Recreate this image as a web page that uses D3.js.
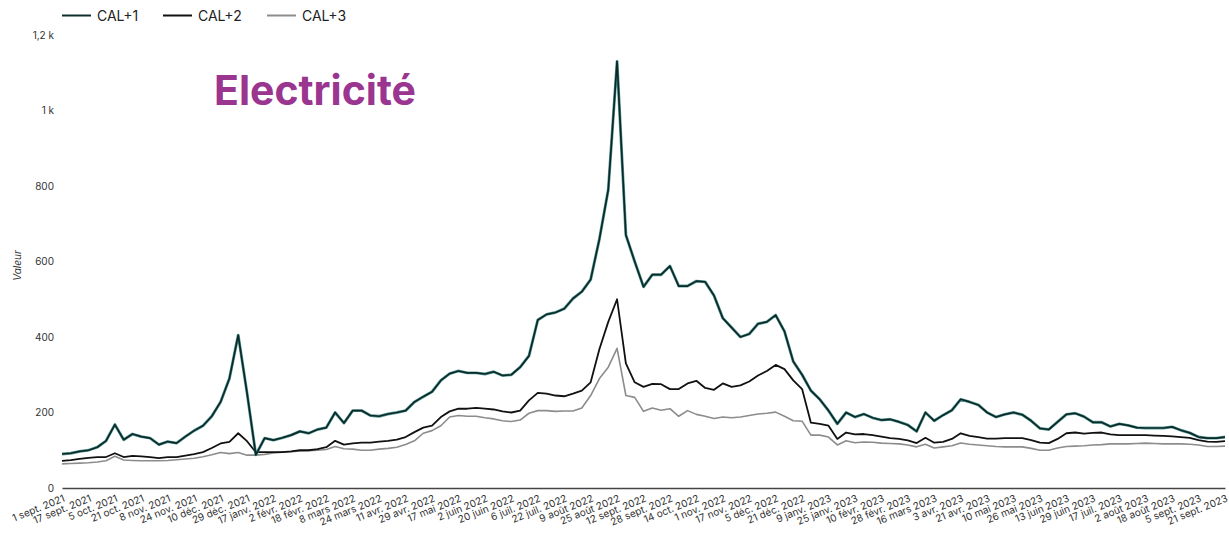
<!DOCTYPE html>
<html>
<head>
<meta charset="utf-8">
<script src="https://cdn.jsdelivr.net/npm/d3@7"></script>
<style>
  body { margin: 0; background: #fff; }
  svg { display: block; }
  text { font-family: Inter, 'Noto Sans', sans-serif; }
</style>
</head>
<body>
<svg id="chart" width="1229" height="541"></svg>
<script>
// tick labels, one every 12 trading days
const tickLabels = [
  '1 sept. 2021', '17 sept. 2021', '5 oct. 2021', '21 oct. 2021', '8 nov. 2021', '24 nov. 2021',
  '10 déc. 2021', '29 déc. 2021', '17 janv. 2022', '2 févr. 2022', '18 févr. 2022', '8 mars 2022',
  '24 mars 2022', '11 avr. 2022', '29 avr. 2022', '17 mai 2022', '2 juin 2022', '20 juin 2022',
  '6 juil. 2022', '22 juil. 2022', '9 août 2022', '25 août 2022', '12 sept. 2022', '28 sept. 2022',
  '14 oct. 2022', '1 nov. 2022', '17 nov. 2022', '5 déc. 2022', '21 déc. 2022', '9 janv. 2023',
  '25 janv. 2023', '10 févr. 2023', '28 févr. 2023', '16 mars 2023', '3 avr. 2023', '21 avr. 2023',
  '10 mai 2023', '26 mai 2023', '13 juin 2023', '29 juin 2023', '17 juil. 2023', '2 août 2023',
  '18 août 2023', '5 sept. 2023', '21 sept. 2023'
];
const tickEvery = 12; // trading days between labels
const sampleStep = 4; // trading days between values below

const cal1 = [
  90, 92, 97, 100, 108, 125, 168, 128, 143, 136,
  132, 115, 123, 119, 136, 152, 165, 190, 228, 290,
  405, 252, 88, 132, 127, 133, 140, 150, 145, 155,
  160, 200, 172, 205, 205, 192, 190, 196, 200, 205,
  228, 242, 255, 285, 303, 310, 305, 305, 302, 308,
  298, 300, 320, 350, 445, 460, 465, 475, 502, 520,
  552, 660, 790, 1130, 670, 600, 533, 565, 565, 588,
  535, 535, 548, 546, 510, 450, 425, 400, 408, 435,
  440, 458, 415, 335, 300, 258, 235, 205, 170, 200,
  188, 196, 186, 180, 182, 175, 167, 150, 200, 178,
  193, 206, 235, 228, 220, 200, 188, 195, 200, 194,
  178, 158, 155, 175, 195, 198, 189, 174, 174, 163,
  170, 166, 160, 159, 159, 159, 162, 153, 146, 135,
  132, 132, 135
];

const cal2 = [
  72, 74, 77, 80, 82, 82, 92, 82, 85, 84,
  82, 79, 82, 82, 86, 90, 95, 106, 118, 122,
  145, 124, 95, 95, 95, 95, 97, 100, 100, 103,
  108, 125, 115, 118, 120, 120, 123, 125, 128, 135,
  148, 160, 165, 188, 203, 210, 210, 212, 210, 208,
  203, 200, 205, 232, 252, 250, 245, 243, 250, 258,
  280, 368, 440, 500, 330, 280, 268, 276, 275, 262,
  262, 277, 284, 265, 260, 277, 268, 272, 282, 298,
  310, 326, 315, 285, 262, 173, 170, 165, 130, 147,
  142, 143, 140, 136, 132, 130, 126, 119, 133, 120,
  122, 130, 145, 138, 135, 131, 131, 132, 132, 132,
  127, 120, 119, 130, 145, 147, 144, 146, 147, 142,
  140, 140, 140, 140, 139, 138, 137, 135, 133, 127,
  123, 122, 124
];

const cal3 = [
  64, 65, 66, 67, 69, 72, 84, 74, 73, 72,
  72, 72, 73, 75, 77, 79, 83, 88, 94, 91,
  94, 87, 87, 89, 93, 95, 96, 98, 99, 100,
  102, 110, 104, 103, 100, 100, 103, 105, 108, 115,
  125, 145, 152, 165, 188, 192, 190, 190, 186, 183,
  178, 176, 180, 198, 205, 205, 203, 204, 204, 212,
  245, 290, 320, 370, 245, 240, 203, 212, 206, 210,
  190, 205, 195, 190, 184, 188, 186, 188, 192, 196,
  198, 201, 190, 178, 177, 140, 140, 135, 114, 125,
  120, 122, 121, 119, 118, 117, 114, 109, 116, 106,
  109, 112, 119, 116, 114, 112, 110, 109, 109, 109,
  105, 100, 100, 106, 110, 111, 112, 114, 115, 117,
  117, 117, 118, 119, 118, 117, 117, 117, 116, 114,
  110, 110, 111
];

const yTicks = [0, 200, 400, 600, 800, 1000, 1200];

const series = [
  { name: 'CAL+3', values: cal3, color: '#8c8c8c', width: 1.6 },
  { name: 'CAL+2', values: cal2, color: '#111111', width: 1.8 },
  { name: 'CAL+1', values: cal1, color: '#0a2a29', width: 1.7, halo: '#2f7f7c' },
];

const svg = d3.select('#chart');
const m = { left: 62, right: 1225, top: 35, bottom: 488 };

const x = d3.scaleLinear()
  .domain([0, (tickLabels.length - 1) * tickEvery])
  .range([m.left, m.right]);

const y = d3.scaleLinear().domain([0, 1200]).range([m.bottom, m.top]);

const fmtY = v => (v >= 1000 ? String(v / 1000).replace('.', ',') + ' k' : String(v));

// y labels (no axis line)
const yAxis = svg.append('g')
  .attr('transform', `translate(${m.left - 8},0)`)
  .call(d3.axisLeft(y).tickValues(yTicks).tickFormat(fmtY).tickSize(0).tickPadding(0));
yAxis.select('.domain').remove();
yAxis.selectAll('text')
  .attr('font-size', '10px')
  .attr('fill', '#333');

svg.append('text')
  .attr('transform', `translate(21,${(m.top + m.bottom) / 2 + 4}) rotate(-90)`)
  .attr('text-anchor', 'middle')
  .attr('font-size', '10px')
  .attr('font-style', 'italic')
  .attr('fill', '#333')
  .text('Valeur');

// x axis
const xAxis = svg.append('g')
  .attr('transform', `translate(0,${m.bottom})`)
  .call(d3.axisBottom(x)
    .tickValues(tickLabels.map((d, i) => i * tickEvery))
    .tickFormat((d, i) => tickLabels[i])
    .tickSize(0));
xAxis.select('.domain')
  .attr('stroke', '#444')
  .attr('stroke-width', 1.6);
xAxis.selectAll('.tick text')
  .attr('font-size', '10px')
  .attr('fill', '#333')
  .attr('text-anchor', 'end')
  .attr('dy', null)
  .attr('y', null)
  .attr('transform', 'translate(3,13) rotate(-22)');

// lines
const line = vals => d3.line()
  .x((d, i) => x(i * sampleStep))
  .y(d => y(d))(vals);

const plot = svg.append('g');
series.forEach(s => {
  if (s.halo) {
    plot.append('path')
      .attr('d', line(s.values))
      .attr('fill', 'none')
      .attr('stroke', s.halo)
      .attr('stroke-width', s.width + 1.2)
      .attr('stroke-linejoin', 'round')
      .attr('opacity', 0.8);
  }
  plot.append('path')
    .attr('d', line(s.values))
    .attr('fill', 'none')
    .attr('stroke', s.color)
    .attr('stroke-width', s.width)
    .attr('stroke-linejoin', 'round');
});

// legend
const legendItems = [
  { name: 'CAL+1', color: '#0d2e2d', x: 62 },
  { name: 'CAL+2', color: '#111111', x: 163 },
  { name: 'CAL+3', color: '#8c8c8c', x: 267 },
];
const legend = svg.append('g');
legendItems.forEach(d => {
  legend.append('line')
    .attr('x1', d.x).attr('x2', d.x + 29)
    .attr('y1', 15.5).attr('y2', 15.5)
    .attr('stroke', d.color)
    .attr('stroke-width', 2);
  legend.append('text')
    .attr('x', d.x + 35)
    .attr('y', 20.5)
    .attr('font-size', '14px')
    .attr('fill', '#222')
    .text(d.name);
});

// title
svg.append('text')
  .attr('x', 214)
  .attr('y', 105)
  .attr('font-family', "'Open Sans', sans-serif")
  .attr('font-weight', 700)
  .attr('font-size', '41px')
  .attr('fill', '#9a3590')
  .text('Electricité');
</script>
</body>
</html>
